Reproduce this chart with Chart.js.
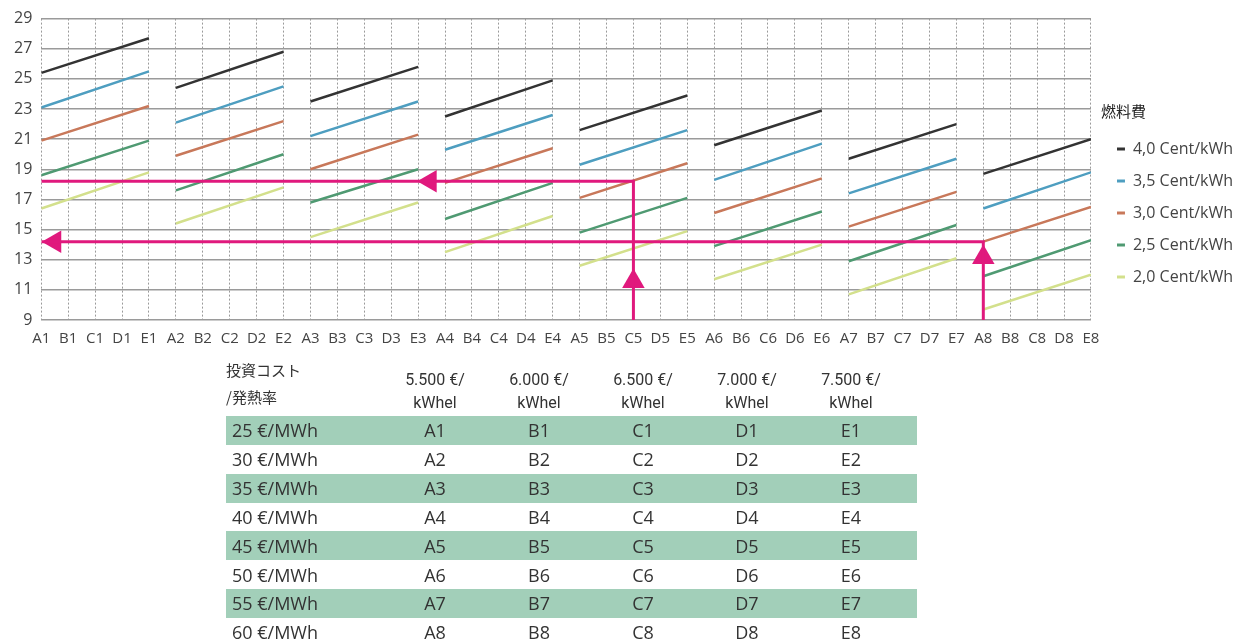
<!DOCTYPE html>
<html>
<head>
<meta charset="utf-8">
<script src="https://cdn.jsdelivr.net/npm/chart.js@4"></script>
<style>
  body { margin: 0; background: #fff; overflow: hidden; width: 1239px; height: 643px; position: relative; }
  #chartBox { position: absolute; left: 0; top: 0; width: 1270px; height: 360px; }
  #costTable { position: absolute; left: 226px; top: 356px; border-collapse: collapse; table-layout: fixed; color: #333; }
  #costTable td { padding: 0; height: 28.85px; font-family: "Open Sans", sans-serif; font-size: 18px; text-align: center; white-space: nowrap; }
  #costTable td.rowHead { text-align: left; padding-left: 6px; }
  #costTable tr.green td { background: #a2cfb9; }
  #costTable th { font-weight: normal; vertical-align: top; padding: 0; }
  #costTable th.corner { height: 60px; text-align: left; font-family: "Noto Sans CJK JP", sans-serif; font-size: 15px; line-height: 27px; color: #333; }
  #costTable th.colHead { height: 48px; font-family: Roboto, "Open Sans", sans-serif; font-size: 16px; line-height: 23px; padding-top: 12px; color: #333; }
</style>
</head>
<body>
<div id="chartBox"><canvas id="myChart"></canvas></div>
<table id="costTable">
  <colgroup><col style="width:157px"><col style="width:104px"><col style="width:104px"><col style="width:104px"><col style="width:104px"><col style="width:104px"><col style="width:14px"></colgroup>
  <thead id="tableHead"></thead>
  <tbody id="tableBody"></tbody>
</table>
<script>
// x tick labels (categories)
const xLabels = ['A1','B1','C1','D1','E1','A2','B2','C2','D2','E2','A3','B3','C3','D3','E3','A4','B4','C4','D4','E4',
                 'A5','B5','C5','D5','E5','A6','B6','C6','D6','E6','A7','B7','C7','D7','E7','A8','B8','C8','D8','E8'];

// values at A and E of each group 1..8, per fuel cost
const fuel40A = [25.4, 24.4, 23.5, 22.5, 21.6, 20.6, 19.7, 18.7];
const fuel40E = [27.7, 26.8, 25.8, 24.9, 23.9, 22.9, 22.0, 21.0];
const fuel35A = [23.1, 22.1, 21.2, 20.3, 19.3, 18.3, 17.4, 16.4];
const fuel35E = [25.5, 24.5, 23.5, 22.6, 21.6, 20.7, 19.7, 18.8];
const fuel30A = [20.9, 19.9, 19.0, 18.1, 17.1, 16.1, 15.2, 14.2];
const fuel30E = [23.2, 22.2, 21.3, 20.4, 19.4, 18.4, 17.5, 16.5];
const fuel25A = [18.6, 17.6, 16.8, 15.7, 14.8, 13.9, 12.9, 11.9];
const fuel25E = [20.9, 20.0, 19.0, 18.1, 17.1, 16.2, 15.3, 14.3];
const fuel20A = [16.4, 15.4, 14.5, 13.5, 12.6, 11.7, 10.7, 9.7];
const fuel20E = [18.8, 17.8, 16.8, 15.9, 14.9, 14.0, 13.1, 12.0];

const seriesNames = ['4,0 Cent/kWh', '3,5 Cent/kWh', '3,0 Cent/kWh', '2,5 Cent/kWh', '2,0 Cent/kWh'];
const seriesColors = ['#333333', '#4e9ec0', '#c8785a', '#4f9a72', '#d3e08c'];

// pink reading lines: start category and read-off value
const readingFrom = ['C5', 'A8'];
const readingValue = [18.2, 14.2];
// arrowheads: x position (category index) , y value, rotation
const arrowX = [0.5, 14.45, 22, 35];
const arrowY = [14.2, 18.2, 11.55, 13.15];
const arrowRot = [-90, -90, 0, 0];

// table
const tableRowHeads = ['25 €/MWh','30 €/MWh','35 €/MWh','40 €/MWh','45 €/MWh','50 €/MWh','55 €/MWh','60 €/MWh'];
const tableColHeads = ['5.500 €/', '6.000 €/', '6.500 €/', '7.000 €/', '7.500 €/'];
const tableLetters = ['A', 'B', 'C', 'D', 'E'];

const pink = '#e0197d';

function buildSeries(aVals, eVals) {
  var pts = [];
  for (let g = 0; g < aVals.length; g++) {
    pts.push({x: g * 5, y: aVals[g]});
    pts.push({x: g * 5 + 4, y: eVals[g]});
    // break between groups
    pts.push({x: g * 5 + 4.5, y: null});
  }
  return pts;
}

function readingPath(i) {
  var xi = xLabels.indexOf(readingFrom[i]);
  return [{x: xi, y: 9}, {x: xi, y: readingValue[i]}, {x: 0, y: readingValue[i]}];
}

const starts = [fuel40A, fuel35A, fuel30A, fuel25A, fuel20A];
const ends = [fuel40E, fuel35E, fuel30E, fuel25E, fuel20E];

var datasets = [];
for (let i = 0; i < readingFrom.length; i++) {
  datasets.push({
    label: 'reading' + i,
    data: readingPath(i),
    borderColor: pink,
    borderWidth: 3,
    pointRadius: 0,
    tension: 0
  });
}
datasets.push({
  label: 'arrows',
  data: arrowX.map((x, i) => ({x: x, y: arrowY[i]})),
  showLine: false,
  pointStyle: 'triangle',
  pointRotation: arrowRot,
  pointRadius: 13,
  pointBackgroundColor: pink,
  pointBorderWidth: 0,
  borderColor: pink
});
for (let s = 0; s < seriesNames.length; s++) {
  datasets.push({
    label: seriesNames[s],
    data: buildSeries(starts[s], ends[s]),
    borderColor: seriesColors[s],
    backgroundColor: seriesColors[s],
    borderWidth: 2.5,
    pointRadius: 0,
    spanGaps: false,
    tension: 0
  });
}

var myChart = new Chart(document.getElementById('myChart'), {
  type: 'line',
  data: { datasets: datasets },
  options: {
    responsive: true,
    maintainAspectRatio: false,
    animation: false,
    layout: { padding: { left: 5, top: 12, right: 27, bottom: 2 } },
    scales: {
      x: {
        type: 'linear',
        min: 0,
        max: 39,
        ticks: {
          stepSize: 1,
          autoSkip: false,
          maxRotation: 0,
          padding: 10,
          color: '#444',
          font: { family: "'Open Sans', sans-serif", size: 15 },
          callback: (v) => xLabels[v]
        },
        grid: { color: '#9a9a9a', lineWidth: 1, drawTicks: false },
        border: { display: false, dash: [2, 2] }
      },
      y: {
        min: 9,
        max: 29,
        ticks: {
          stepSize: 2,
          padding: 9,
          color: '#444',
          font: { family: "'Open Sans', sans-serif", size: 16 }
        },
        grid: { color: '#9a9a9a', lineWidth: 1.5, drawTicks: false },
        border: { display: false }
      },
      // empty spacer between plot and legend
      gap: {
        position: 'right',
        display: true,
        ticks: { display: false },
        grid: { display: false },
        border: { display: false },
        afterFit: (scale) => { scale.width = 10; }
      }
    },
    plugins: {
      tooltip: { enabled: false },
      legend: {
        position: 'right',
        align: 'start',
        title: {
          display: true,
          text: '燃料費',
          position: 'start',
          color: '#222',
          font: { family: "'Noto Sans CJK JP', sans-serif", size: 15 },
          padding: { top: 92, bottom: 3 }
        },
        labels: {
          boxWidth: 8,
          boxHeight: 3,
          padding: 16,
          color: '#444',
          font: { family: "'Open Sans', sans-serif", size: 16 },
          filter: (item) => seriesNames.indexOf(item.text) >= 0,
          generateLabels: (chart) => {
            return Chart.defaults.plugins.legend.labels.generateLabels(chart).map(function (it) {
              it.lineWidth = 0;
              return it;
            });
          }
        }
      }
    }
  }
});

// table
var head = '<tr><th class="corner">投資コスト<br>/発熱率</th>';
tableColHeads.forEach(function (h) { head += '<th class="colHead">' + h + '<br>kWhel</th>'; });
head += '<th></th></tr>';
document.getElementById('tableHead').innerHTML = head;
var body = '';
tableRowHeads.forEach(function (r, i) {
  body += '<tr class="' + (i % 2 === 0 ? 'green' : '') + '"><td class="rowHead">' + r + '</td>';
  tableLetters.forEach(function (l) { body += '<td>' + l + (i + 1) + '</td>'; });
  body += '<td></td></tr>';
});
document.getElementById('tableBody').innerHTML = body;
</script>
</body>
</html>
